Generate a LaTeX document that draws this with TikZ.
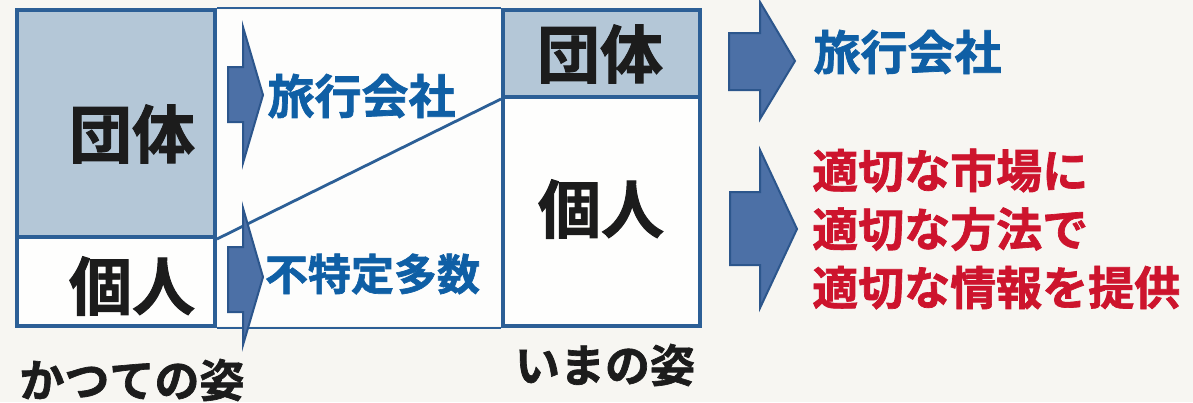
\documentclass[tikz,border=0pt]{standalone}
\usepackage{fontspec}
\newfontfamily\jp{Noto Sans CJK JP Bold}[FakeBold=1.5]
\definecolor{bgc}{RGB}{247,246,242}
\definecolor{boxblue}{RGB}{44,95,150}
\definecolor{cellfill}{RGB}{180,199,215}
\definecolor{txtblue}{RGB}{15,95,165}
\definecolor{txtred}{RGB}{205,20,45}
\definecolor{arrfill}{RGB}{76,112,166}
\definecolor{arrdraw}{RGB}{44,86,140}
\definecolor{ink}{RGB}{28,28,28}
\tikzset{
  cell/.style={draw=boxblue, line width=4pt, inner sep=0pt},
  thinline/.style={draw=boxblue, line width=2.8pt},
  bigarrow/.style={fill=arrfill, draw=arrdraw, line width=2pt, line join=miter},
  lbl/.style={inner sep=0pt, font=\jp},
}
\begin{document}
\begin{tikzpicture}[x=1pt,y=-1pt]
\useasboundingbox (0,0) rectangle (1193,402);
\fill[bgc] (0,0) rectangle (1193,402);
\fill[white!80!bgc] (17,10) rectangle (503,326);
% cells
\node[cell, fill=cellfill, minimum width=198pt, minimum height=227pt] (lg) at (116,123.5) {};
\node[cell, fill=white!85!bgc, minimum width=198pt, minimum height=89pt] (lp) at (116,281.5) {};
\node[cell, fill=white!85!bgc, minimum width=197pt, minimum height=229pt] (rp) at (601.5,211.5) {};
\node[cell, fill=cellfill, minimum width=197pt, minimum height=87pt] (rg) at (601.5,53.5) {};
% frame lines
\draw[thinline] (lg.north east) -- (rg.north west);
\draw[thinline] (lp.south east) -- (rp.south west);
\draw[thinline] (lg.south east) -- (rg.south west);
% arrows
\filldraw[bigarrow] (228,67) -- (243,67) -- (243,27) -- (263,95) -- (243,163) -- (243,122) -- (228,122) -- cycle;
\filldraw[bigarrow] (228,247) -- (243,247) -- (243,208) -- (263,277) -- (243,345) -- (243,312) -- (228,312) -- cycle;
\filldraw[bigarrow] (729,33) -- (760,33) -- (760,2) -- (795,61) -- (760,119) -- (760,90) -- (729,90) -- cycle;
\filldraw[bigarrow] (730,192) -- (760,192) -- (760,150) -- (797,229) -- (760,308) -- (760,265) -- (730,265) -- cycle;
% labels
\node[lbl, text=ink, font=\jp\fontsize{63}{63}\selectfont] (t1) at (132,134) {団体};
\node[lbl, text=ink, font=\jp\fontsize{63}{63}\selectfont] (t2) at (132,286) {個人};
\node[lbl, text=ink, font=\jp\fontsize{63}{63}\selectfont] (t3) at (600,54) {団体};
\node[lbl, text=ink, font=\jp\fontsize{63}{63}\selectfont] (t4) at (601,209) {個人};
\node[lbl, text=txtblue, font=\jp\fontsize{47}{47}\selectfont] (t5) at (361.5,96) {旅行会社};
\node[lbl, text=txtblue, font=\jp\fontsize{43}{43}\selectfont] (t6) at (372.5,274) {不特定多数};
\node[lbl, text=txtblue, font=\jp\fontsize{47}{47}\selectfont] (t7) at (907.5,52) {旅行会社};
\node[lbl, text=txtred, font=\jp\fontsize{46}{58.5}\selectfont, align=left, anchor=west] (t8) at (812,229) {適切な市場に\\適切な方法で\\適切な情報を提供};
\node[lbl, text=ink, font=\jp\fontsize{45}{45}\selectfont] (t9) at (132,380) {かつての姿};
\node[lbl, text=ink, font=\jp\fontsize{45}{45}\selectfont] (t10) at (605,365) {いまの姿};
\end{tikzpicture}
\end{document}
